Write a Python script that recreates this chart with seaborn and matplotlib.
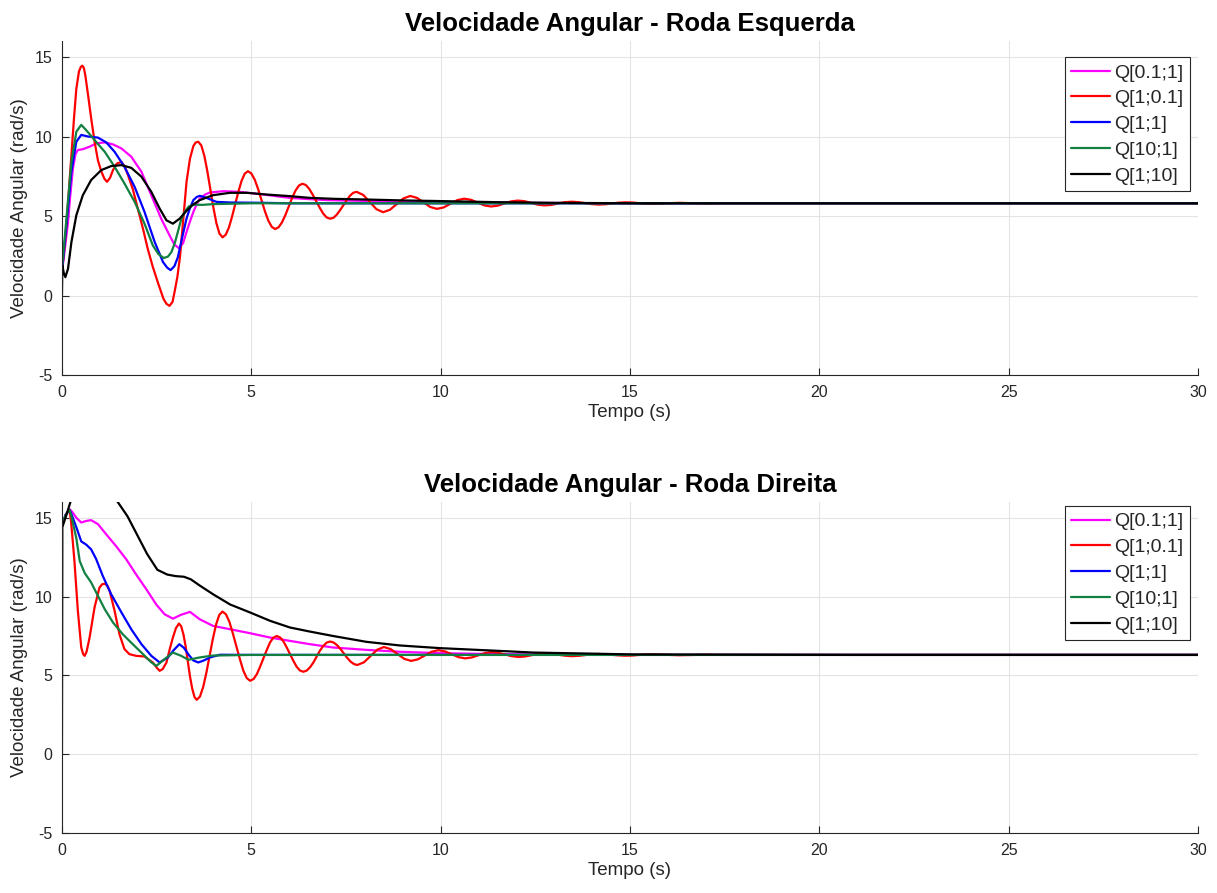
import numpy as np
import pandas as pd
import matplotlib
matplotlib.use("Agg")
import matplotlib.pyplot as plt
import seaborn as sns

# ---------------- data ----------------
labels = ["Q[0.1;1]", "Q[1;0.1]", "Q[1;1]", "Q[10;1]", "Q[1;10]"]
colors = ["#FF00FF", "#FF0000", "#0000FF", "#118040", "#000000"]

# --- Roda Esquerda (top) ---
L_mag_t = [0, 0.08, 0.16, 0.22, 0.29, 0.36, 0.42, 0.55, 0.73, 0.91, 1.13, 1.35, 1.57, 1.83, 2.1, 2.36, 2.62, 2.84, 2.97,
           3.09, 3.2, 3.29, 3.38, 3.47, 3.56, 3.64, 3.78, 3.91, 4.26, 4.7, 5.32, 6.02, 6.55, 7.0, 8.0, 9.0, 10.0, 12.0, 15.0, 30]
L_mag_v = [1.5, 3.0, 4.6, 6.3, 8.0, 8.9, 9.15, 9.2, 9.36, 9.57, 9.63, 9.5, 9.25, 8.73, 7.78, 6.3, 4.84, 3.79, 3.2,
           2.98, 3.3, 4.0, 4.65, 5.26, 5.75, 6.1, 6.35, 6.48, 6.56, 6.52, 6.35, 6.14, 6.06, 6.0, 5.95, 5.9, 5.87, 5.83, 5.8, 5.8]

L_red_t = [0, 0.1, 0.18, 0.25, 0.32, 0.38, 0.45, 0.5, 0.54, 0.58, 0.62, 0.69, 0.78, 0.86, 0.95, 1.04, 1.12, 1.19, 1.27,
           1.35, 1.45, 1.57, 1.66, 1.74, 1.87, 2.0, 2.14, 2.27, 2.4, 2.53, 2.68, 2.76, 2.84, 2.92, 2.98, 3.05, 3.12, 3.2,
           3.29, 3.38, 3.47, 3.53, 3.6,
           3.68, 3.76, 3.84, 3.92, 4.0, 4.08, 4.16, 4.24,
           4.324, 4.408, 4.491, 4.575, 4.659, 4.743, 4.826, 4.91,
           5.0, 5.09, 5.18, 5.27, 5.36, 5.45, 5.54, 5.63,
           5.72, 5.81, 5.9, 5.99, 6.08, 6.17, 6.26, 6.35,
           6.44, 6.53, 6.62, 6.715, 6.81, 6.9, 6.99, 7.08,
           7.17, 7.255, 7.34, 7.43, 7.52, 7.605, 7.69, 7.78,
           7.955, 8.13, 8.305, 8.48, 8.66, 8.84, 9.02, 9.2,
           9.375, 9.55, 9.725, 9.9, 10.08, 10.26, 10.44, 10.62, 10.8, 10.975, 11.15, 11.33, 11.51, 11.685, 11.86, 12.04,
           12.22, 12.395, 12.57, 12.75, 12.93, 13.105, 13.28, 13.46, 13.64, 13.815, 13.99, 14.17, 14.35, 14.525, 14.7,
           14.88, 15.06, 15.24, 15.42, 15.6, 15.95, 16.3, 16.65, 17.0, 17.5, 30]
L_red_v = [1.5, 3.8, 6.5, 8.8, 11.2, 13.0, 14.1, 14.38, 14.45, 14.3, 13.8, 12.6, 11.0, 9.7, 8.5, 7.8, 7.35, 7.15, 7.4,
           7.9, 8.3, 8.4, 8.1, 7.6, 6.7, 5.5, 4.2, 2.9, 1.8, 0.84, -0.2, -0.52, -0.65, -0.4, 0.3, 1.2, 2.5, 4.7,
           7.15, 8.6, 9.4, 9.62, 9.67,
           9.44, 8.79, 7.81, 6.67, 5.52, 4.54, 3.89, 3.66,
           3.82, 4.27, 4.95, 5.74, 6.53, 7.21, 7.66, 7.82,
           7.68, 7.29, 6.7, 6.0, 5.3, 4.71, 4.32, 4.18,
           4.29, 4.6, 5.06, 5.6, 6.15, 6.61, 6.92, 7.03,
           6.95, 6.71, 6.35, 5.93, 5.51, 5.15, 4.91, 4.83,
           4.89, 5.08, 5.35, 5.68, 6.0, 6.27, 6.46, 6.52,
           6.33, 5.88, 5.43, 5.24, 5.39, 5.75, 6.11, 6.26,
           6.14, 5.86, 5.57, 5.45, 5.54, 5.77, 6.0, 6.09, 6.02, 5.85, 5.67, 5.6, 5.65, 5.79, 5.92, 5.97,
           5.93, 5.82, 5.71, 5.67, 5.70, 5.79, 5.87, 5.9, 5.87, 5.81, 5.75, 5.72, 5.74, 5.79, 5.84,
           5.86, 5.85, 5.81, 5.77, 5.76, 5.795, 5.83, 5.805, 5.78, 5.8, 5.8]

L_blu_t = [0, 0.11, 0.25, 0.38, 0.51, 0.69, 0.95, 1.17, 1.39, 1.65, 1.92, 2.18, 2.45, 2.67, 2.78, 2.87, 2.97, 3.06,
           3.17, 3.29, 3.38, 3.47, 3.56, 3.64, 3.75, 3.86, 4.08, 4.44, 5.32, 6.0, 30]
L_blu_v = [1.5, 4.2, 7.8, 9.67, 10.1, 10.0, 9.93, 9.63, 9.04, 8.1, 6.83, 5.26, 3.36, 2.1, 1.75, 1.6, 1.85, 2.4,
           3.6, 4.84, 5.5, 6.0, 6.2, 6.27, 6.2, 6.1, 5.89, 5.85, 5.83, 5.8, 5.8]

L_grn_t = [0, 0.11, 0.25, 0.38, 0.51, 0.64, 0.86, 1.13, 1.39, 1.65, 1.92, 2.18, 2.4, 2.55, 2.69, 2.8, 2.89, 2.98,
           3.06, 3.15, 3.25, 3.35, 3.5, 3.7, 4.0, 5.0, 30]
L_grn_v = [1.7, 4.6, 8.4, 10.3, 10.73, 10.4, 9.78, 9.04, 8.1, 7.05, 5.89, 4.52, 3.15, 2.6, 2.36, 2.45, 2.73, 3.3,
           4.0, 4.8, 5.3, 5.6, 5.72, 5.7, 5.75, 5.8, 5.8]

L_blk_t = [0, 0.01, 0.05, 0.09, 0.16, 0.25, 0.38, 0.55, 0.77, 1.04, 1.3, 1.57, 1.83, 2.1, 2.36, 2.58, 2.76, 2.93,
           3.11, 3.28, 3.45, 3.64, 3.99, 4.44, 4.88, 5.41, 6.02, 6.55, 7.2, 8.0, 9.0, 9.75, 11.5, 13.0, 15.0, 30]
L_blk_v = [0, 1.9, 1.4, 1.16, 1.68, 3.36, 5.05, 6.3, 7.26, 7.89, 8.14, 8.2, 8.03, 7.47, 6.52, 5.47, 4.73, 4.52,
           4.84, 5.3, 5.7, 6.0, 6.31, 6.46, 6.46, 6.35, 6.25, 6.14, 6.08, 6.04, 5.98, 5.95, 5.87, 5.83, 5.8, 5.8]

# --- Roda Direita (bottom) ---
R_mag_t = [0, 0.1, 0.2, 0.24, 0.31, 0.38, 0.51, 0.64, 0.77, 0.95, 1.17, 1.43, 1.7, 1.96, 2.23, 2.49, 2.71, 2.93,
           3.15, 3.38, 3.64, 3.99, 4.44, 4.96, 5.5, 6.02, 6.55, 7.16, 8.04, 8.92, 9.98, 11.5, 13.0, 15.0, 30]
R_mag_v = [14.5, 15.2, 15.55, 15.46, 15.25, 15.0, 14.7, 14.8, 14.85, 14.6, 13.95, 13.2, 12.36, 11.4, 10.46, 9.5, 8.88, 8.6,
           8.85, 9.03, 8.56, 8.14, 7.93, 7.68, 7.4, 7.19, 6.98, 6.77, 6.62, 6.5, 6.41, 6.35, 6.32, 6.3, 6.3]

R_red_t = [0, 0.1, 0.2, 0.24, 0.33, 0.42, 0.51, 0.56, 0.6, 0.65, 0.73, 0.86, 0.99, 1.06, 1.13, 1.2, 1.26, 1.39, 1.52,
           1.65, 1.78, 1.96, 2.18, 2.4, 2.5, 2.58, 2.66, 2.76, 2.85, 2.93, 3.01, 3.09,
           3.15, 3.21, 3.27, 3.325, 3.38, 3.44, 3.5, 3.56,
           3.645, 3.73, 3.815, 3.9, 3.985, 4.07, 4.155, 4.24,
           4.33, 4.42, 4.51, 4.605, 4.7, 4.79, 4.88, 4.97,
           5.06, 5.145, 5.23, 5.32, 5.41, 5.495, 5.58, 5.67,
           5.76, 5.845, 5.93, 6.02, 6.11, 6.195, 6.28, 6.37,
           6.46, 6.55, 6.64, 6.725, 6.81, 6.9, 6.99, 7.08,
           7.17, 7.26, 7.35, 7.44, 7.53, 7.62, 7.71, 7.8,
           7.975, 8.15, 8.325, 8.5, 8.68, 8.86, 9.04, 9.22, 9.4, 9.58, 9.76, 9.94, 10.12, 10.295, 10.47, 10.65,
           10.825, 11.0, 11.175, 11.35, 11.525, 11.7, 11.875, 12.05, 12.23, 12.405, 12.58, 12.76, 12.935, 13.11, 13.285,
           13.46, 13.64, 13.815, 13.99, 14.17, 14.345, 14.52, 14.695, 14.87, 15.05, 15.225, 15.4, 15.58, 16.28, 16.98,
           17.5, 30]
R_red_v = [14.5, 15.2, 15.5, 14.8, 12.25, 9.1, 6.77, 6.35, 6.24, 6.5, 7.4, 9.3, 10.57, 10.78, 10.82, 10.68, 10.36, 9.1, 7.6,
           6.67, 6.35, 6.24, 6.2, 5.82, 5.5, 5.29, 5.4, 5.82, 6.7, 7.4, 8.0, 8.29,
           8.11, 7.58, 6.79, 5.87, 4.95, 4.16, 3.63, 3.45,
           3.66, 4.27, 5.18, 6.25, 7.32, 8.23, 8.84, 9.05,
           8.88, 8.41, 7.69, 6.86, 6.02, 5.3, 4.83, 4.66,
           4.77, 5.07, 5.54, 6.08, 6.62, 7.09, 7.39, 7.5,
           7.41, 7.17, 6.8, 6.37, 5.93, 5.56, 5.32, 5.23,
           5.3, 5.51, 5.82, 6.19, 6.56, 6.87, 7.08, 7.15,
           7.09, 6.93, 6.69, 6.41, 6.12, 5.88, 5.72, 5.66,
           5.83, 6.23, 6.63, 6.8, 6.67, 6.36, 6.05, 5.92, 6.02, 6.26, 6.5, 6.6, 6.52, 6.34, 6.16, 6.08,
           6.14, 6.28, 6.42, 6.48, 6.43, 6.33, 6.22, 6.17, 6.2, 6.285, 6.37, 6.4, 6.37, 6.31, 6.25,
           6.22, 6.24, 6.29, 6.34, 6.36, 6.34, 6.305, 6.27, 6.25, 6.26, 6.295, 6.33, 6.34, 6.28, 6.31,
           6.3, 6.3]

R_blu_t = [0, 0.1, 0.2, 0.24, 0.38, 0.51, 0.64, 0.77, 0.9, 1.08, 1.3, 1.57, 1.83, 2.1, 2.36, 2.58, 2.8, 2.95, 3.1,
           3.22, 3.35, 3.47, 3.6, 3.75, 3.91, 4.17, 5.0, 30]
R_blu_v = [14.5, 15.2, 15.5, 15.3, 14.4, 13.5, 13.3, 13.0, 12.4, 11.3, 10.15, 9.0, 7.93, 6.98, 6.24, 5.82, 6.14, 6.6, 6.98,
           6.75, 6.3, 5.95, 5.82, 5.95, 6.14, 6.31, 6.3, 6.3]

R_grn_t = [0, 0.1, 0.2, 0.24, 0.38, 0.47, 0.6, 0.77, 0.95, 1.13, 1.35, 1.61, 1.87, 2.14, 2.35, 2.49, 2.71, 2.93,
           3.15, 3.34, 3.64, 3.99, 5.0, 30]
R_grn_v = [14.5, 15.2, 15.5, 15.2, 13.7, 12.25, 11.5, 10.9, 10.05, 9.2, 8.35, 7.6, 6.98, 6.35, 5.85, 5.6, 6.03, 6.45,
           6.24, 5.99, 6.14, 6.26, 6.3, 6.3]

R_blk_t = [0, 0.01, 0.12, 0.23, 0.4, 0.7, 1.0, 1.25, 1.46, 1.73, 1.99, 2.25, 2.52, 2.78, 3.0, 3.22, 3.4, 3.64, 3.99,
           4.44, 4.96, 5.5, 6.02, 6.55, 7.16, 8.04, 8.92, 9.98, 11.5, 12.44, 15.1, 20.8, 30]
R_blk_v = [0, 14.4, 15.2, 16.05, 17.3, 18.3, 18.2, 17.2, 16.05, 15.1, 13.9, 12.7, 11.7, 11.4, 11.3, 11.26, 11.1, 10.7, 10.15,
           9.5, 9.0, 8.46, 8.04, 7.78, 7.5, 7.13, 6.9, 6.73, 6.56, 6.45, 6.33, 6.3, 6.3]

x_ticks = [0, 5, 10, 15, 20, 25, 30]
y_ticks = [-5, 0, 5, 10, 15]

panels = [
    ("Velocidade Angular - Roda Esquerda",
     [(L_mag_t, L_mag_v), (L_red_t, L_red_v), (L_blu_t, L_blu_v), (L_grn_t, L_grn_v), (L_blk_t, L_blk_v)]),
    ("Velocidade Angular - Roda Direita",
     [(R_mag_t, R_mag_v), (R_red_t, R_red_v), (R_blu_t, R_blu_v), (R_grn_t, R_grn_v), (R_blk_t, R_blk_v)]),
]

# ---------------- style ----------------
sns.set_theme(style="whitegrid")
plt.rcParams["font.family"] = ["Liberation Sans", "DejaVu Sans"]
plt.rcParams["axes.unicode_minus"] = False

fig = plt.figure(figsize=(12.17, 8.93), dpi=100)
axes_rects = [[0.0509, 0.580, 0.9335, 0.374], [0.0509, 0.0672, 0.9335, 0.3706]]
legend_anchor = [(0.993, 0.952), (0.993, 0.988)]

for (title, series), rect, anc in zip(panels, axes_rects, legend_anchor):
    ax = fig.add_axes(rect)
    frames = []
    for lab, (t, v) in zip(labels, series):
        frames.append(pd.DataFrame({"t": t, "v": v, "serie": lab}))
    df = pd.concat(frames, ignore_index=True)
    sns.lineplot(data=df, x="t", y="v", hue="serie", hue_order=labels,
                 palette=dict(zip(labels, colors)), sort=False, estimator=None,
                 linewidth=1.6, ax=ax)
    for ln in ax.get_lines():
        ln.set_solid_joinstyle("round")
    ax.set_xlim(0, 30)
    ax.set_ylim(-5, 16)
    ax.set_xticks(x_ticks)
    ax.set_yticks(y_ticks)
    ax.set_facecolor("white")
    ax.grid(True, color="#e3e3e3", linewidth=0.8)
    for s in ["top", "right"]:
        ax.spines[s].set_visible(False)
    for s in ["left", "bottom"]:
        ax.spines[s].set_color("#262626")
        ax.spines[s].set_linewidth(0.8)
    ax.tick_params(axis="both", direction="in", length=5, width=0.8, colors="#262626",
                   labelsize=11.5, left=True, bottom=True, pad=7)
    ax.set_xlabel("Tempo (s)", fontsize=13.5, color="#262626", labelpad=3)
    ax.set_ylabel("Velocidade Angular (rad/s)", fontsize=13.5, color="#262626", labelpad=5)
    ax.set_title(title, fontsize=18.5, fontweight="bold", color="black", pad=7)
    leg = ax.legend(loc="upper right", bbox_to_anchor=anc, fontsize=14, frameon=True,
                    fancybox=False, edgecolor="#262626", framealpha=1, borderpad=0.35,
                    labelspacing=0.42, handlelength=2.0, handletextpad=0.2, borderaxespad=0)
    leg.get_frame().set_linewidth(0.8)
    for line in leg.get_lines():
        line.set_linewidth(1.6)

fig.savefig("out.png", dpi=100)
